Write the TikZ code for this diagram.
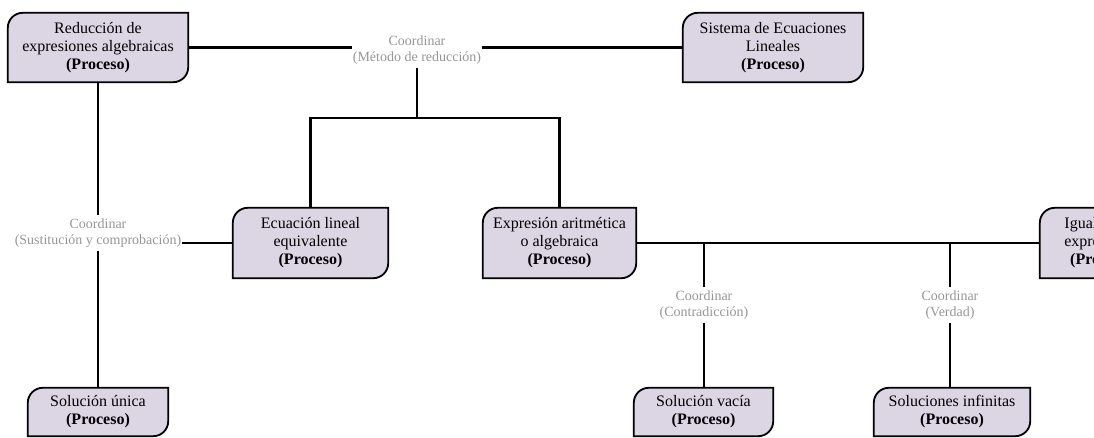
\documentclass[tikz,border=0pt]{standalone}
\usepackage{fontspec}
\setmainfont{Liberation Serif}
\usetikzlibrary{backgrounds}
\definecolor{procfill}{RGB}{220,214,228}
\definecolor{relgray}{RGB}{150,150,150}
\tikzset{
  proc/.style={inner sep=0pt, align=center, font=\fontsize{16}{18}\selectfont},
  rel/.style={inner xsep=1pt, inner ysep=3pt, align=center, text=relgray, font=\fontsize{14}{16}\selectfont},
  link/.style={line width=2.6pt, black},
  procline/.style={line width=1.8pt, draw=black, fill=procfill}
}
% process box: rounded top-left and bottom-right corners
\newcommand\procshape[1]{%
  \filldraw[procline] (#1.south west) -- ([yshift=-15pt]#1.north west)
    arc[start angle=180, end angle=90, radius=15pt] -- (#1.north east)
    -- ([yshift=15pt]#1.south east)
    arc[start angle=0, end angle=-90, radius=15pt] -- cycle;}
\begin{document}
\begin{tikzpicture}[x=1pt, y=1pt]
\useasboundingbox (0,0) rectangle (1094,437);
\clip (0,0) rectangle (1094,437);

% process nodes
\node[proc, minimum width=180pt, minimum height=69pt] (red) at (98,389.5)
  {Reducción de\\expresiones algebraicas\\\textbf{(Proceso)}};
\node[proc, minimum width=180pt, minimum height=69pt] (sis) at (773,389.5)
  {Sistema de Ecuaciones\\Lineales\\\textbf{(Proceso)}};
\node[proc, minimum width=155pt, minimum height=70pt] (ecu) at (310.5,194)
  {Ecuación lineal\\equivalente\\\textbf{(Proceso)}};
\node[proc, minimum width=153pt, minimum height=70pt] (exp) at (559.5,194)
  {Expresión aritmética\\o algebraica\\\textbf{(Proceso)}};
\node[proc, minimum width=124pt, minimum height=70pt] (igu) at (1102,194)
  {Igualdad de\\expresiones\\\textbf{(Proceso)}};
\node[proc, minimum width=140pt, minimum height=48pt] (uni) at (98,25)
  {Solución única\\\textbf{(Proceso)}};
\node[proc, minimum width=139pt, minimum height=48pt] (vac) at (703.5,25)
  {Solución vacía\\\textbf{(Proceso)}};
\node[proc, minimum width=156pt, minimum height=48pt] (inf) at (952,25)
  {Soluciones infinitas\\\textbf{(Proceso)}};

% relation labels
\node[rel] (cmet) at (417,387) {Coordinar\\(Método de reducción)};
\node[rel] (csus) at (98,204) {Coordinar\\(Sustitución y comprobación)};
\node[rel] (ccon) at (704,132) {Coordinar\\(Contradicción)};
\node[rel] (cver) at (950,132) {Coordinar\\(Verdad)};

% box outlines behind the texts
\begin{scope}[on background layer]
  \foreach \n in {red,sis,ecu,exp,igu,uni,vac,inf} {\procshape{\n}}
\end{scope}

% connectors
\coordinate (fork) at (417,319);
\draw[link] (red.east) -- (red.east -| cmet.west);
\draw[link] (sis.west) -- (sis.west -| cmet.east);
\draw[link] (cmet.south) -- (fork);
\draw[link] (ecu.north) |- (fork) -| (exp.north);

\draw[link] (red.south) -- (csus.north);
\draw[link] (csus.south) -- (csus.south |- uni.north);
\draw[link] (ecu.west) -- (ecu.west -| csus.east);

\draw[link] (exp.east) -- (igu.west);
\draw[link] (ccon.north) -- (ccon.north |- exp.east);
\draw[link] (ccon.south) -- (ccon.south |- vac.north);
\draw[link] (cver.north) -- (cver.north |- exp.east);
\draw[link] (cver.south) -- (cver.south |- inf.north);
\end{tikzpicture}
\end{document}
